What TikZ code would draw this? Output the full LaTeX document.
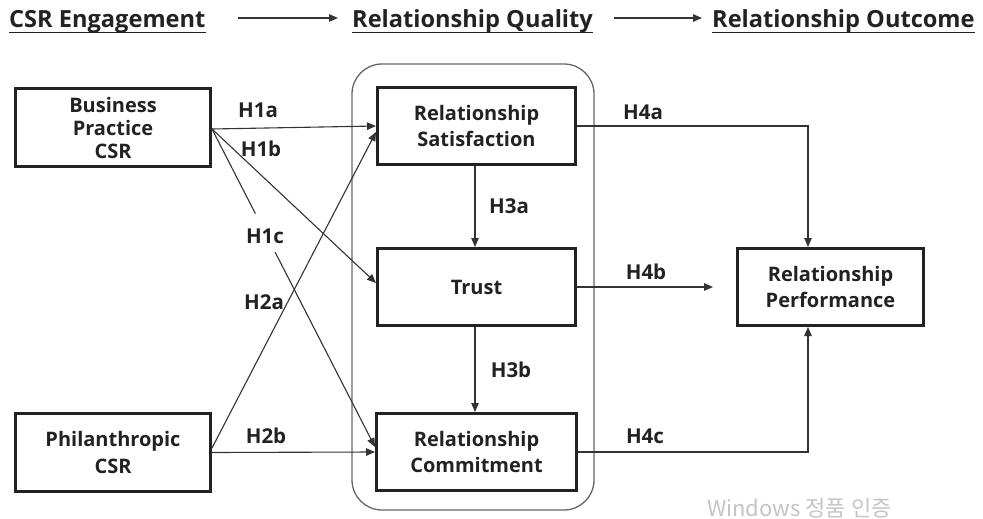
\documentclass[tikz,border=0pt]{standalone}
\usepackage{fontspec}
\setmainfont{Open Sans}
\newfontfamily\krfont{Noto Sans CJK KR}
\usetikzlibrary{arrows.meta,calc}
\definecolor{txt}{HTML}{222222}
\definecolor{ln}{HTML}{333333}
\definecolor{frame}{HTML}{666666}
\definecolor{wm}{HTML}{C4C4C4}
\tikzset{
  varbox/.style={draw=txt, line width=3pt, align=center, text=txt, inner sep=0pt,
    font=\fontsize{20}{26.5}\selectfont\bfseries},
  hyplabel/.style={text=txt, inner sep=0pt, font=\fontsize{20.5}{22}\selectfont\bfseries},
  heading/.style={text=txt, inner sep=0pt, anchor=base west, font=\fontsize{23.6}{26}\selectfont\bfseries},
  conn/.style={draw=ln, line width=1.1pt},
  arr/.style={conn, -{Triangle[length=9pt,width=7.5pt]}},
}
\begin{document}
\begin{tikzpicture}[x=1pt,y=-1pt]
\useasboundingbox (0,0) rectangle (983,519);
% headings
\node[heading] (hA) at (9,28) {CSR Engagement};
\node[heading] (hB) at (352,28) {Relationship Quality};
\node[heading] (hC) at (712,28) {Relationship Outcome};
\foreach \h in {hA,hB,hC}{
  \draw[txt, line width=1.4pt] ([yshift=-4.5pt]\h.base west) -- ([yshift=-4.5pt]\h.base east);
}
\draw[arr] ([xshift=32pt,yshift=10pt]hA.base east) -- ([xshift=-14pt,yshift=10pt]hB.base west);
\draw[arr] ([xshift=21pt,yshift=10pt]hB.base east) -- ([xshift=-10pt,yshift=10pt]hC.base west);
% container
\draw[frame, line width=1.3pt, rounded corners=30pt] (352,64) rectangle (594,510);
% boxes
\node[varbox, minimum width=195pt, minimum height=78pt, font=\fontsize{20}{23}\selectfont\bfseries] (bp) at (113,127.5) {Business\\Practice\\CSR};
\node[varbox, minimum width=195pt, minimum height=78pt] (ph) at (113,452.5) {Philanthropic\\CSR};
\node[varbox, minimum width=198pt, minimum height=77pt] (rs) at (476.5,126) {Relationship\\Satisfaction};
\node[varbox, minimum width=198pt, minimum height=77pt] (tr) at (476.5,287) {Trust};
\node[varbox, minimum width=200pt, minimum height=77pt] (rc) at (476.5,452) {Relationship\\Commitment};
\node[varbox, minimum width=186pt, minimum height=77pt] (rp) at (830.5,287) {Relationship\\Performance};
% helper coordinates
\coordinate (h4x) at (808,0);
\coordinate (h4bend) at (713,287);
% connectors
\draw[arr] ([yshift=-1.5pt]bp.east) -- (rs.west);
\draw[arr] ([yshift=-1.5pt]bp.east) -- ([yshift=4pt]tr.west);
\draw[conn] ([yshift=-1.5pt]bp.east) -- ($([yshift=-1.5pt]bp.east)!0.266!([yshift=5pt]rc.west)$);
\draw[arr] ($([yshift=-1.5pt]bp.east)!0.387!([yshift=5pt]rc.west)$) -- ([yshift=5pt]rc.west);
\draw[arr] ([yshift=4.5pt]ph.east) -- ([yshift=-6pt]rs.west);
\draw[arr] (ph.east) -- (rc.west);
\draw[arr] ([xshift=-1.5pt]rs.south) -- ([xshift=-1.5pt]tr.north);
\draw[arr] ([xshift=-1.5pt]tr.south) -- ([xshift=-1.5pt]rc.north);
\draw[arr] (rs.east) -| (h4x |- rp.north);
\draw[arr] (tr.east) -- (h4bend);
\draw[arr] (rc.east) -| (h4x |- rp.south);
% hypothesis labels
\node[hyplabel] at (258,110) {H1a};
\node[hyplabel] at (261,149) {H1b};
\node[hyplabel] at (265,236) {H1c};
\node[hyplabel] at (264,302) {H2a};
\node[hyplabel] at (266,436) {H2b};
\node[hyplabel] at (509,206) {H3a};
\node[hyplabel] at (511,370) {H3b};
\node[hyplabel] at (643,112) {H4a};
\node[hyplabel] at (646,272) {H4b};
\node[hyplabel] at (645,436) {H4c};
% watermark
\node[anchor=base west, inner sep=0pt, text=wm, font=\krfont\fontsize{22}{24}\selectfont] (wmk) at (707,516) {Windows 정품 인증};
\end{tikzpicture}
\end{document}
